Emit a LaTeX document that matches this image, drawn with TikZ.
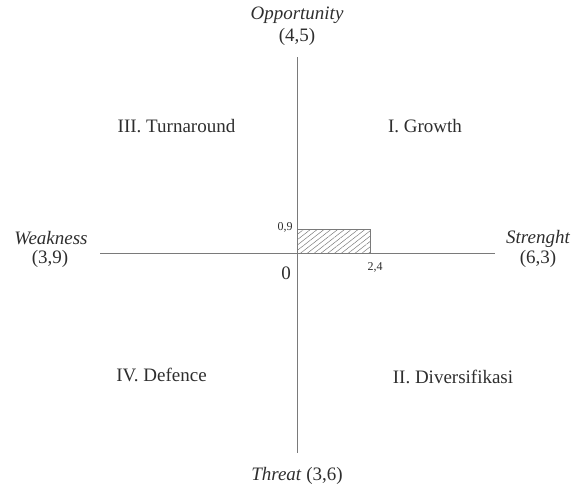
\documentclass[tikz,border=0pt]{standalone}
\usepackage{fontspec}
\setmainfont{Liberation Serif}
\usetikzlibrary{patterns.meta}
\definecolor{axisgray}{HTML}{7A7A7A}
\definecolor{txt}{HTML}{2E2E2E}
\tikzset{
  axis/.style={draw=axisgray, line width=0.9pt},
  lbl/.style={text=txt, font=\fontsize{19}{21}\selectfont, inner sep=0pt, align=center},
  ilbl/.style={lbl, font=\fontsize{19}{22}\selectfont\itshape},
  small/.style={text=txt, font=\fontsize{12}{13}\selectfont, inner sep=0pt},
  hatch/.style={draw=axisgray, line width=0.9pt, pattern={Lines[angle=38,distance=4.2pt,line width=0.5pt]}, pattern color=axisgray}
}
\begin{document}
\begin{tikzpicture}[x=1pt,y=-1pt]
\useasboundingbox (0,0) rectangle (572,488);
% axis end points
\coordinate (top) at (297,57);
\coordinate (bot) at (297,453);
\coordinate (left) at (100,253.5);
\coordinate (right) at (495,253.5);
\coordinate (o) at (297,253.5);
\coordinate (r) at (370,229);
% hatched box
\path[hatch] (o) rectangle (r);
% axes
\draw[axis] (top) -- (bot);
\draw[axis] (left) -- (right);
% axis labels
\node[ilbl] (opp) at (297,15) {Opportunity};
\node[lbl] (oppv) at (297,37) {(4,5)};
\node[ilbl] (weak) at (51,238.5) {Weakness};
\node[lbl] (weakv) at (50,259) {(3,9)};
\node[ilbl] (str) at (538,238.5) {Strenght};
\node[lbl] (strv) at (538,259) {(6,3)};
\node[lbl] (thr) at (297,476) {\textit{Threat} (3,6)};
% quadrant labels
\node[lbl] (q3) at (176.5,126) {III. Turnaround};
\node[lbl] (q1) at (425,126) {I. Growth};
\node[lbl] (q4) at (161.5,375) {IV. Defence};
\node[lbl] (q2) at (453,377) {II. Diversifikasi};
% small labels
\node[small] (n09) at (285,227.5) {0,9};
\node[small] (n24) at (375,267) {2,4};
\node[lbl] (zero) at (286,273) {0};
\end{tikzpicture}
\end{document}
